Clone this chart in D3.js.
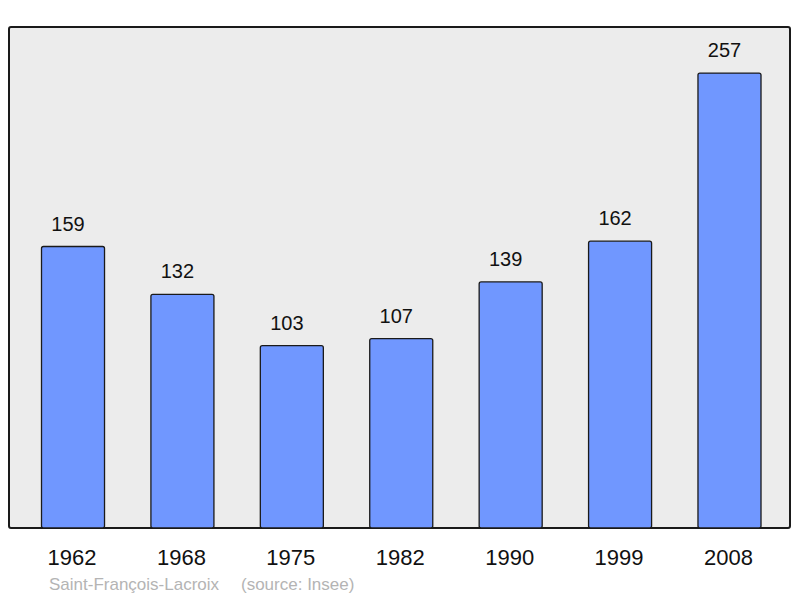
<!DOCTYPE html>
<html>
<head>
<meta charset="utf-8">
<script src="https://cdn.jsdelivr.net/npm/d3@7"></script>
<style>
  html, body { margin: 0; padding: 0; background: #fff; }
  svg { display: block; font-family: "Liberation Sans", Arial, sans-serif; }
</style>
</head>
<body>
<div id="chart"></div>
<script>
  const years = ['1962', '1968', '1975', '1982', '1990', '1999', '2008'];
  const population = [159, 132, 103, 107, 139, 162, 257];
  const townName = 'Saint-François-Lacroix';
  const sourceNote = '(source: Insee)';

  const w = 800, h = 598;
  const frame = { left: 9, top: 27, right: 790, bottom: 528 };

  const svg = d3.select('#chart').append('svg').attr('width', w).attr('height', h);

  // plot frame
  svg.append('rect')
    .attr('x', frame.left).attr('y', frame.top)
    .attr('width', frame.right - frame.left).attr('height', frame.bottom - frame.top)
    .attr('rx', 2)
    .attr('fill', '#ececec').attr('stroke', '#1a1a1a').attr('stroke-width', 2);

  const x = d3.scaleBand().domain(years).range([41.5, 761]).paddingInner(0.424).paddingOuter(0);
  const y = d3.scaleLinear().domain([0, 283]).range([frame.bottom, frame.top]);

  const data = years.map((yr, i) => ({ yr, v: population[i] }));

  svg.append('g').selectAll('rect').data(data).join('rect')
    .attr('x', d => x(d.yr))
    .attr('y', d => y(d.v))
    .attr('width', x.bandwidth())
    .attr('height', d => y(0) - y(d.v))
    .attr('rx', 2)
    .attr('fill', '#7097ff').attr('stroke', '#1a1a1a').attr('stroke-width', 1.3);

  // value labels
  svg.append('g').selectAll('text').data(data).join('text')
    .attr('x', d => x(d.yr) + x.bandwidth() / 2 - 5)
    .attr('y', d => y(d.v) - 16)
    .attr('text-anchor', 'middle')
    .attr('font-size', 20).attr('fill', '#111')
    .text(d => d.v);

  // year labels
  svg.append('g').selectAll('text').data(years).join('text')
    .attr('x', d => x(d) + x.bandwidth() / 2 - 1)
    .attr('y', 565)
    .attr('text-anchor', 'middle')
    .attr('font-size', 22).attr('fill', '#111')
    .text(d => d);

  // source line
  svg.append('text').attr('x', 49).attr('y', 590)
    .attr('font-size', 17).attr('fill', '#b4b4b4').text(townName);
  svg.append('text').attr('x', 241).attr('y', 590)
    .attr('font-size', 17).attr('fill', '#b4b4b4').text(sourceNote);
</script>
</body>
</html>
